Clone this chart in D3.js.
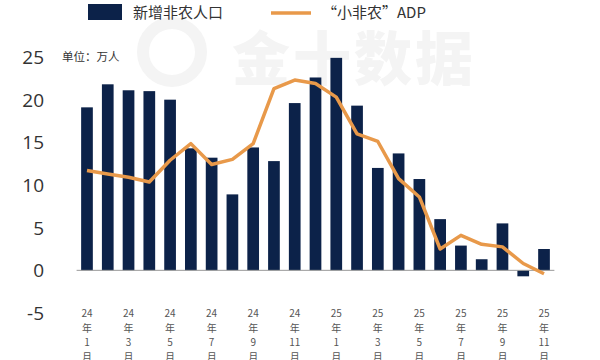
<!DOCTYPE html>
<html><head><meta charset="utf-8">
<script src="https://cdn.jsdelivr.net/npm/d3@7"></script>
<style>body{margin:0;background:#fff}svg{display:block}</style>
</head><body>
<svg id="c" width="600" height="360"></svg>
<script>
const months = ["24年1月","24年2月","24年3月","24年4月","24年5月","24年6月","24年7月","24年8月","24年9月","24年10月","24年11月","24年12月",
  "25年1月","25年2月","25年3月","25年4月","25年5月","25年6月","25年7月","25年8月","25年9月","25年10月","25年11月"];
const nfp = [19.1,21.8,21.1,21.0,20.0,14.3,13.2,8.9,14.4,12.8,19.6,22.6,24.9,19.3,12.0,13.7,10.7,6.0,2.9,1.3,5.5,-0.7,2.5];
const adp = [11.7,11.3,10.9,10.35,12.9,14.85,12.4,13.0,14.85,21.3,22.3,21.9,20.3,16.0,15.1,10.75,8.6,2.5,4.1,3.05,2.75,0.8,-0.4];
const yTicks = [-5,0,5,10,15,20,25];
const tickLabels = months.map((m,i)=> i%2===0 ? [m.slice(0,2),"年",m.slice(3,m.length-1),"月"] : null);

const svg = d3.select("#c");
const font = "'Open Sans','Noto Sans CJK SC',sans-serif";

// watermark
svg.append("text").attr("x",232).attr("y",80).attr("font-family","'Noto Sans CJK SC',sans-serif")
  .attr("font-weight",900).attr("font-size",58).attr("fill","#f4f4f4").attr("letter-spacing",3).text("金十数据");
svg.append("circle").attr("cx",172).attr("cy",52).attr("r",29).attr("fill","none").attr("stroke","#f4f4f4").attr("stroke-width",12);

const x = d3.scaleBand().domain(months).range([76.6,554.4]).padding(0);
const y = d3.scaleLinear().domain([-5,25]).range([313,57]);

// y labels
svg.append("g").selectAll("text").data(yTicks).join("text")
  .attr("x",44).attr("y",d=>y(d)).attr("dy","0.36em").attr("text-anchor","end")
  .attr("font-family",font).attr("font-size",19).attr("fill","#333").text(d=>d);

svg.append("text").attr("x",62).attr("y",61).attr("font-family","'Noto Sans CJK SC',sans-serif")
  .attr("font-size",11.5).attr("fill","#333").text("单位：万人");

// bars
const bw = 11.7;
svg.append("g").selectAll("rect").data(nfp).join("rect")
  .attr("x",(d,i)=>x(months[i])+x.bandwidth()/2-bw/2).attr("width",bw)
  .attr("y",d=>y(Math.max(0,d))).attr("height",d=>Math.abs(y(d)-y(0)))
  .attr("fill","#0c2249");

// baseline
svg.append("line").attr("x1",76.6).attr("x2",554.4).attr("y1",y(0)).attr("y2",y(0))
  .attr("stroke","#999").attr("stroke-width",1);

// line
const line = d3.line().x((d,i)=>x(months[i])+x.bandwidth()/2).y(d=>y(d));
svg.append("path").datum(adp).attr("d",line).attr("fill","none")
  .attr("stroke","#e8994a").attr("stroke-width",3.5).attr("stroke-linejoin","round");

// x labels
const xg = svg.append("g");
tickLabels.forEach((lab,i)=>{
  if(!lab) return;
  const cx = x(months[i])+x.bandwidth()/2;
  const t = xg.append("text").attr("text-anchor","middle").attr("font-family","'Noto Sans CJK SC',sans-serif")
    .attr("font-size",10).attr("fill","#555");
  lab.forEach((s,k)=>t.append("tspan").attr("x",cx).attr("y",317+k*14.6).text(s));
});

// legend
svg.append("rect").attr("x",88).attr("y",4).attr("width",34).attr("height",16).attr("fill","#0c2249");
svg.append("text").attr("x",133).attr("y",18).attr("font-family","'Noto Sans CJK SC',sans-serif")
  .attr("font-size",15).attr("fill","#333").text("新增非农人口");
svg.append("line").attr("x1",271).attr("x2",311).attr("y1",13).attr("y2",13).attr("stroke","#e8994a").attr("stroke-width",3.5);
svg.append("text").attr("x",322).attr("y",18).attr("font-family","'Noto Sans CJK SC',sans-serif")
  .attr("font-size",15).attr("fill","#333").text("“小非农”ADP");
</script>
</body></html>
